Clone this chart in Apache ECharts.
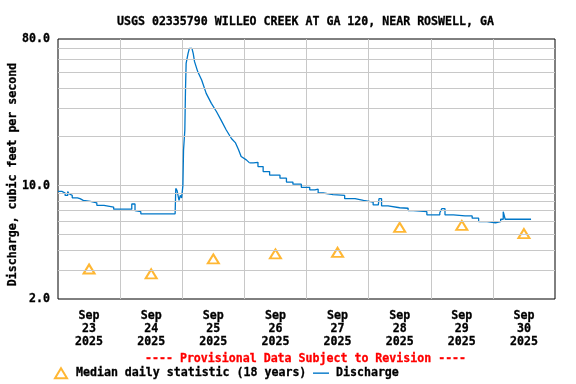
<!DOCTYPE html>
<html><head><meta charset="utf-8">
<script src="https://cdn.jsdelivr.net/npm/echarts@6/dist/echarts.min.js"></script>
<style>html,body{margin:0;padding:0;background:#fff}#c{width:576px;height:384px}</style>
</head><body><div id="c"></div>
<script>
const titleText = 'USGS 02335790 WILLEO CREEK AT GA 120, NEAR ROSWELL, GA';
const yAxisName = 'Discharge, cubic feet per second';
const provisionalText = '---- Provisional Data Subject to Revision ----';
const medianName = 'Median daily statistic (18 years)';
const dischargeName = 'Discharge';

const dayLabels = ['Sep\n23\n2025','Sep\n24\n2025','Sep\n25\n2025','Sep\n26\n2025','Sep\n27\n2025','Sep\n28\n2025','Sep\n29\n2025','Sep\n30\n2025'];

const dischargeTimes = [
'2025-09-23 00:00','2025-09-23 01:30','2025-09-23 02:45','2025-09-23 03:45','2025-09-23 04:15','2025-09-23 04:45',
'2025-09-23 05:30','2025-09-23 07:30','2025-09-23 08:30','2025-09-23 09:45','2025-09-23 12:30','2025-09-23 15:00',
'2025-09-23 17:45','2025-09-23 21:30','2025-09-24 03:00','2025-09-24 04:30','2025-09-24 05:45','2025-09-24 06:30',
'2025-09-24 08:00','2025-09-24 16:30','2025-09-24 16:45','2025-09-24 19:15','2025-09-24 19:30','2025-09-24 21:15',
'2025-09-24 21:30','2025-09-24 22:00','2025-09-24 22:45','2025-09-24 23:15','2025-09-24 23:45','2025-09-25 00:15',
'2025-09-25 00:30','2025-09-25 01:00','2025-09-25 01:15','2025-09-25 01:30','2025-09-25 02:15','2025-09-25 02:45',
'2025-09-25 03:15','2025-09-25 03:45','2025-09-25 04:15','2025-09-25 04:45','2025-09-25 06:00','2025-09-25 07:30',
'2025-09-25 09:15','2025-09-25 11:15','2025-09-25 13:15','2025-09-25 15:00','2025-09-25 17:00','2025-09-25 19:00',
'2025-09-25 20:30','2025-09-25 21:00','2025-09-25 21:45','2025-09-25 22:45','2025-09-26 00:45','2025-09-26 02:00',
'2025-09-26 03:30','2025-09-26 04:00','2025-09-26 05:15','2025-09-26 07:15','2025-09-26 09:45','2025-09-26 13:45',
'2025-09-26 16:15','2025-09-26 18:45','2025-09-26 22:00','2025-09-27 01:15','2025-09-27 03:15','2025-09-27 03:45',
'2025-09-27 04:30','2025-09-27 06:30','2025-09-27 10:15','2025-09-27 14:45','2025-09-27 18:45','2025-09-27 22:00',
'2025-09-28 01:45','2025-09-28 03:45','2025-09-28 04:00','2025-09-28 05:00','2025-09-28 07:30','2025-09-28 12:00',
'2025-09-28 15:15','2025-09-28 17:15','2025-09-28 22:30','2025-09-29 02:15','2025-09-29 03:30','2025-09-29 04:15',
'2025-09-29 05:30','2025-09-29 08:45','2025-09-29 13:15','2025-09-29 16:00','2025-09-29 18:30','2025-09-29 21:45',
'2025-09-30 01:00','2025-09-30 03:00','2025-09-30 04:00','2025-09-30 04:45','2025-09-30 14:45'
];
const dischargeValues = [
9.2,9.0,8.7,9.2,8.9,8.7,
8.4,8.3,8.1,8.0,7.83,7.56,
7.37,7.15,7.15,7.7,7.0,6.9,
6.7,6.55,6.7,6.55,6.7,6.7,
9.6,9.3,8.1,8.7,8.4,10.0,
16.6,22,38.8,56.6,65.3,70.1,
71,70.1,65,58,50.2,44.7,
37,32.1,28.5,25.3,22.0,19.5,
18.4,18.0,16.6,15.1,14.4,13.8,
13.7,13.9,13.1,12.2,11.6,11.1,
10.5,10.2,9.76,9.4,9.2,9.5,
9.0,8.8,8.7,8.3,8.1,7.9,
7.6,7.6,8.3,7.5,7.3,7.25,
7.0,6.9,6.6,6.6,6.8,7.2,
6.6,6.5,6.5,6.3,6.0,5.9,
6.0,6.2,6.9,6.2,6.2
];

const medianTimes = ['2025-09-23 12:00','2025-09-24 12:00','2025-09-25 12:00','2025-09-26 12:00','2025-09-27 12:00','2025-09-28 12:00','2025-09-29 12:00','2025-09-30 12:00'];
const medianValues = [3.06, 2.86, 3.53, 3.79, 3.88, 5.53, 5.68, 5.06];

const minorGridValues = [3,4,5,6,7,8,9,20,30,40,50,60,70];

// the storm hydrograph (rise + early recession) is drawn unstepped, the rest stepped
const smoothStart = 29, smoothEnd = 53;

const FONT = 'DejaVu Sans Mono';
const FS = 11.6;
const GRID = '#c8c8c8';
const BLUE = '#0077c8';
const txt = (c) => ({fontFamily: FONT, fontWeight: 'bold', fontSize: FS, color: c || '#000',
                     textBorderColor: c || '#000', textBorderWidth: 0.3});

const pts = dischargeTimes.map((t, i) => [t, dischargeValues[i]]);
const lineSeries = (data, step) => ({
  name: dischargeName, type: 'line', xAxisIndex: 1, step: step, symbol: 'none', showSymbol: false, z: 4,
  lineStyle: {color: BLUE, width: 1.3}, itemStyle: {color: BLUE}, data: data
});

const chart = echarts.init(document.getElementById('c'), null, {renderer:'canvas'});
chart.setOption({
  animation: false,
  backgroundColor: '#fff',
  title: [
    {text: titleText, left: 117, top: 16, padding: 0, textStyle: txt()},
    {text: provisionalText, left: 145, top: 353, padding: 0, textStyle: txt('#ff0000')}
  ],
  legend: [
    {left: 54, top: 367, padding: 0, itemWidth: 12, itemHeight: 10,
     textStyle: Object.assign(txt(), {padding: [0,0,0,4]}),
     data: [{name: medianName, icon: 'emptyTriangle'}]},
    {left: 313, top: 367, padding: 0, itemWidth: 16, itemHeight: 1.4,
     textStyle: Object.assign(txt(), {padding: [0,0,0,2]}),
     data: [{name: dischargeName, icon: 'rect', itemStyle: {color: BLUE}}]}
  ],
  grid: {left: 58, right: 21, top: 39, bottom: 85, outerBoundsMode: 'none', containLabel: false,
         show: true, borderColor: '#000', borderWidth: 1, backgroundColor: 'transparent'},
  xAxis: [
    {type: 'category', data: dayLabels, boundaryGap: true,
     axisLine: {show: false}, axisTick: {show: false},
     splitLine: {show: true, interval: 0, showMinLine: false, showMaxLine: false, lineStyle: {color: GRID, width: 1}},
     axisLabel: Object.assign({interval: 0, margin: 10, lineHeight: 13}, txt())},
    {type: 'time', min: '2025-09-23 00:00', max: '2025-10-01 00:00', show: false}
  ],
  yAxis: {
    type: 'log', logBase: 10, min: 2, max: 80,
    axisLine: {show: false}, axisTick: {show: false},
    splitLine: {show: true, showMinLine: false, showMaxLine: false, lineStyle: {color: GRID, width: 1}},
    axisLabel: Object.assign({margin: 8, padding: [4, 0, 0, 0], formatter: v => Number(v).toFixed(1)}, txt()),
    name: yAxisName, nameLocation: 'middle', nameGap: 39, nameRotate: 90, nameMoveOverlap: false,
    nameTextStyle: Object.assign(txt(), {padding: [0, 11, 0, 0]})
  },
  series: [
    {name: 'grid', type: 'line', xAxisIndex: 1, data: [], z: 1, silent: true,
     markLine: {silent: true, symbol: 'none', animation: false, label: {show: false},
       lineStyle: {color: GRID, width: 1, type: 'solid'},
       data: minorGridValues.map(v => ({yAxis: v}))}},
    {name: medianName, type: 'scatter', xAxisIndex: 1, symbol: 'emptyTriangle', symbolSize: [11, 9], z: 3,
     itemStyle: {color: '#ffa500', borderWidth: 1},
     data: medianTimes.map((t, i) => [t, medianValues[i]])},
    lineSeries(pts.slice(0, smoothStart + 1), 'end'),
    lineSeries(pts.slice(smoothStart, smoothEnd + 1), false),
    lineSeries(pts.slice(smoothEnd), 'end')
  ]
});
</script></body></html>
